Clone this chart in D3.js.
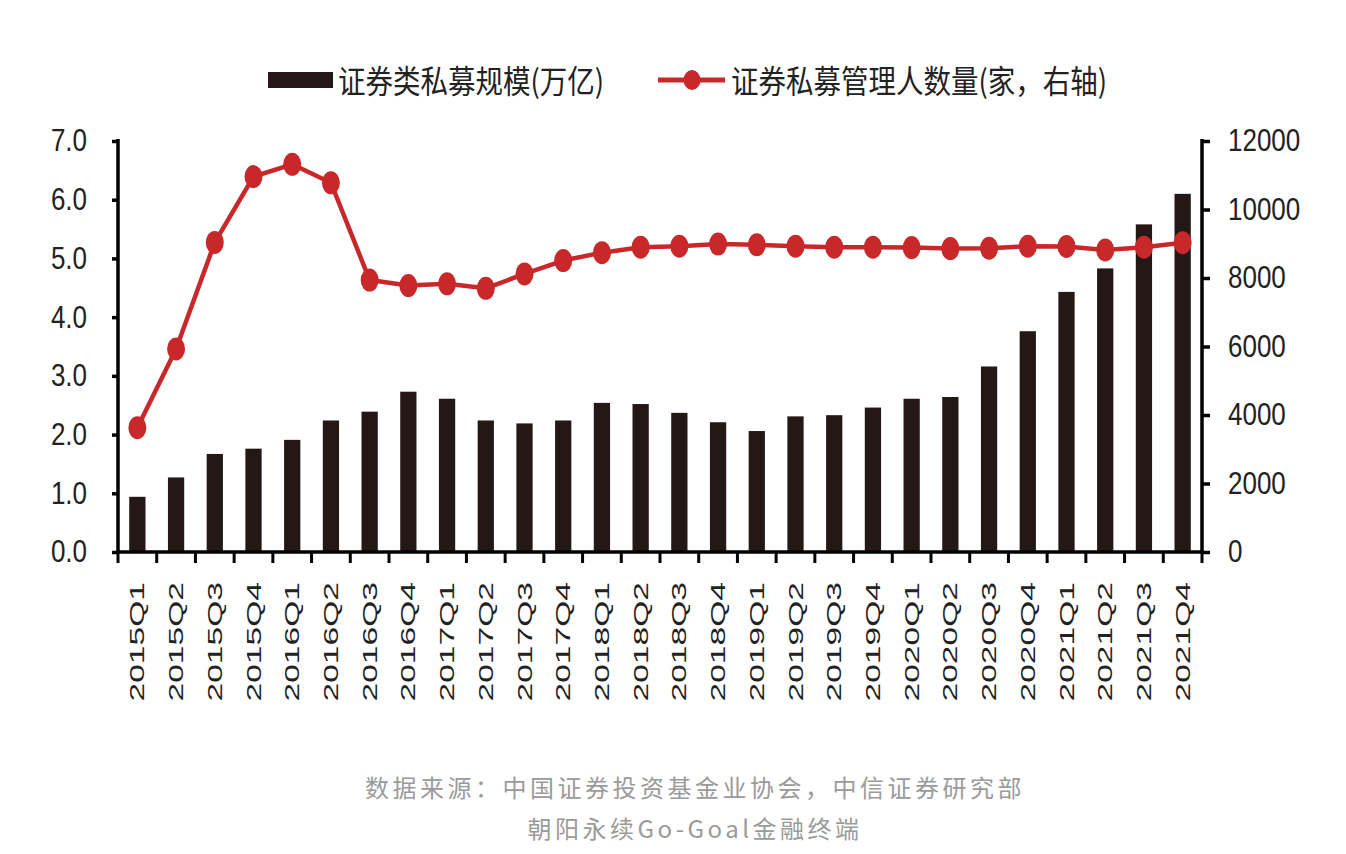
<!DOCTYPE html>
<html>
<head>
<meta charset="utf-8">
<script src="https://cdn.jsdelivr.net/npm/d3@7/dist/d3.min.js"></script>
<style>
  html, body { margin: 0; padding: 0; background: #fff; }
  svg { display: block; }
</style>
</head>
<body>
<svg id="chart" width="1346" height="854"></svg>
<script>
const categories = ["2015Q1","2015Q2","2015Q3","2015Q4","2016Q1","2016Q2","2016Q3","2016Q4",
  "2017Q1","2017Q2","2017Q3","2017Q4","2018Q1","2018Q2","2018Q3","2018Q4",
  "2019Q1","2019Q2","2019Q3","2019Q4","2020Q1","2020Q2","2020Q3","2020Q4",
  "2021Q1","2021Q2","2021Q3","2021Q4"];
const scaleValues = [0.94,1.27,1.67,1.76,1.91,2.24,2.39,2.73,2.61,2.24,2.19,2.24,2.54,2.52,
  2.37,2.21,2.06,2.31,2.33,2.46,2.61,2.64,3.16,3.76,4.43,4.83,5.58,6.10];
const managerCounts = [3630,5930,9040,10960,11320,10780,7940,7780,7830,7700,8120,8510,8740,8900,
  8930,8990,8970,8930,8900,8900,8890,8860,8870,8930,8920,8820,8900,9030];
const leftTicks = [0,1,2,3,4,5,6,7];
const rightTicks = [0,2000,4000,6000,8000,10000,12000];
const seriesNames = ["证券类私募规模(万亿)", "证券私募管理人数量(家，右轴)"];
const footerLines = ["数据来源：中国证券投资基金业协会，中信证券研究部", "朝阳永续Go-Goal金融终端"];

(function () {
const BAR_COLOR = "#231815";
const RED = "#c8282a";
const NUM_FONT = "'Liberation Sans', Arial, sans-serif";
const CJK_FONT = "'Noto Sans CJK SC', 'Noto Sans', sans-serif";
const STRETCH = 1.2;

const svg = d3.select("#chart");
const pL = 118, pR = 1202, pT = 141, pB = 552;

const x = d3.scaleBand().domain(categories).range([pL, pR]).paddingInner(0).paddingOuter(0);
const yL = d3.scaleLinear().domain([0, 7]).range([pB, pT]);
const yR = d3.scaleLinear().domain([0, 12000]).range([pB, pT]);

// bars
const barW = x.bandwidth() * 0.42;
svg.append("g").selectAll("rect").data(categories).join("rect")
  .attr("x", (d) => x(d) + x.bandwidth() / 2 - barW / 2)
  .attr("y", (d, i) => yL(scaleValues[i]))
  .attr("width", barW)
  .attr("height", (d, i) => pB - yL(scaleValues[i]))
  .attr("fill", BAR_COLOR);

// line
const line = d3.line()
  .x((d, i) => x(categories[i]) + x.bandwidth() / 2)
  .y((d) => yR(d));
svg.append("path").datum(managerCounts)
  .attr("d", line)
  .attr("fill", "none")
  .attr("stroke", RED)
  .attr("stroke-width", 4.5)
  .attr("stroke-linejoin", "round");
svg.append("g").selectAll("ellipse").data(managerCounts).join("ellipse")
  .attr("cx", (d, i) => x(categories[i]) + x.bandwidth() / 2)
  .attr("cy", (d) => yR(d))
  .attr("rx", 9)
  .attr("ry", 11.5)
  .attr("fill", RED);

// left axis
const gL = svg.append("g").attr("transform", `translate(${pL},0)`)
  .call(d3.axisLeft(yL).tickValues(leftTicks).tickFormat(d3.format(".1f"))
    .tickSize(6).tickSizeOuter(0).tickPadding(25));
// right axis
const gR = svg.append("g").attr("transform", `translate(${pR},0)`)
  .call(d3.axisRight(yR).tickValues(rightTicks).tickFormat(d3.format("d"))
    .tickSize(8).tickSizeOuter(0).tickPadding(18));
[gL, gR].forEach(g => {
  g.select(".domain").attr("stroke", "#000").attr("stroke-width", 3.5);
  g.selectAll(".tick line").attr("stroke", "#000").attr("stroke-width", 3.5);
  g.selectAll(".tick text")
    .attr("font-family", NUM_FONT).attr("font-size", 26).attr("fill", "#222")
    .attr("transform", `scale(1,${STRETCH})`);
});
gL.select(".domain").attr("d", `M0,${pT - 2}V${pB + 2}`);
gR.select(".domain").attr("d", `M0,${pT - 2}V${pB + 2}`);

// x axis
const gX = svg.append("g");
gX.append("line").attr("x1", pL).attr("x2", pR).attr("y1", pB).attr("y2", pB)
  .attr("stroke", "#000").attr("stroke-width", 3.5);
const tickPos = categories.map(c => x(c)).concat([x.range()[1]]);
gX.selectAll("line.t").data(tickPos).join("line").attr("class", "t")
  .attr("x1", d => d).attr("x2", d => d).attr("y1", pB).attr("y2", pB + 11)
  .attr("stroke", "#000").attr("stroke-width", 3);
gX.selectAll("text").data(categories).join("text")
  .attr("transform", d => `translate(${x(d) + x.bandwidth() / 2},582) rotate(-90) scale(1.6,1)`)
  .attr("text-anchor", "end")
  .attr("dominant-baseline", "central")
  .attr("font-family", NUM_FONT).attr("font-size", 21).attr("fill", "#222")
  .text(d => d);

// legend
const lg = svg.append("g");
lg.append("rect").attr("x", 268).attr("y", 72).attr("width", 65).attr("height", 16).attr("fill", BAR_COLOR);
lg.append("text").attr("transform", `translate(338,80) scale(1,1.15)`)
  .attr("dominant-baseline", "central")
  .attr("font-family", CJK_FONT).attr("font-size", 27.5).attr("fill", "#222")
  .text(seriesNames[0]);
lg.append("line").attr("x1", 658).attr("x2", 725).attr("y1", 80).attr("y2", 80)
  .attr("stroke", RED).attr("stroke-width", 5);
lg.append("ellipse").attr("cx", 692).attr("cy", 80).attr("rx", 8.5).attr("ry", 10).attr("fill", RED);
lg.append("text").attr("transform", `translate(731,80) scale(1,1.15)`)
  .attr("dominant-baseline", "central")
  .attr("font-family", CJK_FONT).attr("font-size", 27.5).attr("fill", "#222")
  .text(seriesNames[1]);

// footer
svg.append("g").selectAll("text").data(footerLines).join("text")
  .attr("x", 695)
  .attr("y", (d, i) => 797 + i * 41)
  .attr("text-anchor", "middle")
  .attr("font-family", CJK_FONT).attr("font-size", 24)
  .attr("letter-spacing", 3.5)
  .attr("fill", "#9a9a9a")
  .text(d => d);
})();
</script>
</body>
</html>
